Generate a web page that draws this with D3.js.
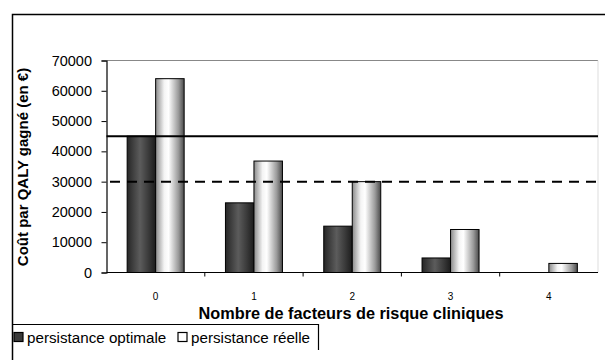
<!DOCTYPE html>
<html>
<head>
<meta charset="utf-8">
<script src="https://cdn.jsdelivr.net/npm/d3@7"></script>
<style>
  html, body { margin: 0; padding: 0; background: #fff; }
  svg { display: block; font-family: "Liberation Sans", Arial, sans-serif; }
</style>
</head>
<body>
<svg id="chart" width="605" height="360"></svg>
<script>
// Number of clinical risk factors
const categories = ["0", "1", "2", "3", "4"];
// Cost per QALY gained (€), by persistence scenario
const optimale = [45000, 23000, 15300, 4800, 0];
const reelle = [64000, 36800, 30000, 14200, 3000];
const seriesNames = ["persistance optimale", "persistance réelle"];
const yTicks = [0, 10000, 20000, 30000, 40000, 50000, 60000, 70000];
// Willingness-to-pay thresholds
const thresholdSolid = 45000;
const thresholdDashed = 30000;

const svg = d3.select("#chart");

// Gradient fills for the two series
const defs = svg.append("defs");
const gDark = defs.append("linearGradient").attr("id", "gradDark")
  .attr("x1", "0%").attr("x2", "100%").attr("y1", "0%").attr("y2", "0%");
[["0%", "#262626"], ["45%", "#5c5c5c"], ["75%", "#3a3a3a"], ["100%", "#1c1c1c"]]
  .forEach(([o, c]) => gDark.append("stop").attr("offset", o).attr("stop-color", c));
const gLight = defs.append("linearGradient").attr("id", "gradLight")
  .attr("x1", "0%").attr("x2", "100%").attr("y1", "0%").attr("y2", "0%");
[["0%", "#8a8a8a"], ["30%", "#f4f4f4"], ["45%", "#ffffff"], ["80%", "#9a9a9a"], ["100%", "#4a4a4a"]]
  .forEach(([o, c]) => gLight.append("stop").attr("offset", o).attr("stop-color", c));

// Outer frame (left and top edges)
svg.append("path").attr("d", "M12.5,360 V14.5 H605")
  .attr("fill", "none").attr("stroke", "#000").attr("stroke-width", 1.5);

const plot = { left: 106.5, right: 598, top: 60.5, bottom: 272.5 };

const x = d3.scaleBand().domain(categories).range([plot.left, plot.right]);
const y = d3.scaleLinear().domain([0, 70000]).range([plot.bottom, plot.top]);
const groupW = 57;
const xs = d3.scaleBand().domain([0, 1]).range([0, groupW]);

// Plot area border (top, right)
svg.append("line").attr("x1", plot.left).attr("x2", plot.right)
  .attr("y1", plot.top).attr("y2", plot.top).attr("stroke", "#888").attr("stroke-width", 1.2);
svg.append("line").attr("x1", plot.right).attr("x2", plot.right)
  .attr("y1", plot.top).attr("y2", plot.bottom).attr("stroke", "#ddd");

// Bars
const series = [optimale, reelle];
const fills = ["url(#gradDark)", "url(#gradLight)"];
series.forEach((vals, si) => {
  svg.append("g").selectAll("rect")
    .data(vals.map((v, i) => ({ c: categories[i], v })).filter(d => d.v > 0))
    .join("rect")
    .attr("x", d => x(d.c) + (x.bandwidth() - groupW) / 2 + xs(si))
    .attr("y", d => y(d.v))
    .attr("width", xs.bandwidth())
    .attr("height", d => y(0) - y(d.v))
    .attr("fill", fills[si])
    .attr("stroke", "#000")
    .attr("stroke-width", 1);
});

// Threshold lines
svg.append("line")
  .attr("x1", plot.left).attr("x2", plot.right)
  .attr("y1", y(thresholdSolid)).attr("y2", y(thresholdSolid))
  .attr("stroke", "#000").attr("stroke-width", 2);
svg.append("line")
  .attr("x1", 110).attr("x2", plot.right)
  .attr("y1", y(thresholdDashed)).attr("y2", y(thresholdDashed))
  .attr("stroke", "#000").attr("stroke-width", 2)
  .attr("stroke-dasharray", "10,7");

// Y axis
const yAxis = svg.append("g").attr("transform", `translate(${plot.left},0)`)
  .call(d3.axisLeft(y).tickValues(yTicks).tickFormat(d3.format("d")).tickSize(5).tickPadding(9.5));
yAxis.select(".domain").attr("stroke", "#000").attr("stroke-width", 1.2);
yAxis.selectAll(".tick line").attr("stroke", "#000");
yAxis.selectAll(".tick text").attr("font-size", 14.5).attr("fill", "#000")
  .attr("font-family", "Liberation Sans, Arial, sans-serif");

// X axis: ticks sit between categories
const xAxis = svg.append("g").attr("transform", `translate(0,${plot.bottom})`);
xAxis.append("line").attr("x1", plot.left).attr("x2", plot.right)
  .attr("stroke", "#000").attr("stroke-width", 1.2);
xAxis.selectAll("line.sep").data(categories.slice(1)).join("line")
  .attr("class", "sep")
  .attr("x1", d => x(d)).attr("x2", d => x(d))
  .attr("y1", 0).attr("y2", 4).attr("stroke", "#000");
xAxis.selectAll("text").data(categories).join("text")
  .attr("x", d => x(d) + x.bandwidth() / 2)
  .attr("y", 27)
  .attr("text-anchor", "middle")
  .attr("font-size", 10)
  .text(d => d);

// Axis titles
svg.append("text")
  .attr("transform", "translate(28,167) rotate(-90)")
  .attr("text-anchor", "middle")
  .attr("font-size", 15).attr("font-weight", "bold")
  .text("Coût par QALY gagné (en €)");
svg.append("text")
  .attr("x", 351).attr("y", 319)
  .attr("text-anchor", "middle")
  .attr("font-size", 16.3).attr("font-weight", "bold")
  .text("Nombre de facteurs de risque cliniques");

// Legend
const legend = svg.append("g");
legend.append("path").attr("d", "M12.5,324.5 H318.5 V350")
  .attr("fill", "none").attr("stroke", "#000").attr("stroke-width", 1.2);
const legendX = [14, 178];
seriesNames.forEach((name, i) => {
  legend.append("rect")
    .attr("x", legendX[i]).attr("y", 332.5)
    .attr("width", 9).attr("height", 9)
    .attr("fill", i === 0 ? "#3a3a3a" : "#fff")
    .attr("stroke", "#000").attr("stroke-width", 1.2);
  legend.append("text")
    .attr("x", legendX[i] + 13).attr("y", 342.5)
    .attr("font-size", 15.2)
    .text(name);
});
</script>
</body>
</html>
